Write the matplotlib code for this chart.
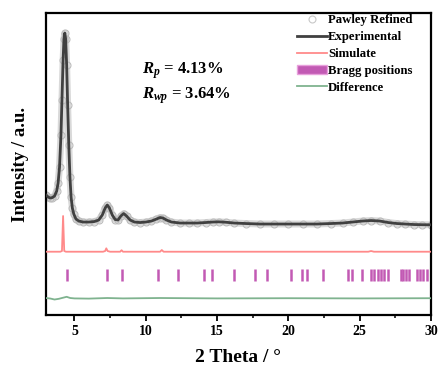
import matplotlib
matplotlib.use("Agg")
import matplotlib.pyplot as plt
from matplotlib.patches import Patch
from matplotlib.lines import Line2D
from matplotlib.ticker import MultipleLocator

plt.rcParams["font.family"] = ["Liberation Serif", "DejaVu Serif"]
plt.rcParams["font.weight"] = "bold"
plt.rcParams["mathtext.fontset"] = "custom"
plt.rcParams["mathtext.rm"] = "Liberation Serif:bold"
plt.rcParams["mathtext.it"] = "Liberation Serif:bold:italic"
plt.rcParams["mathtext.bf"] = "Liberation Serif:bold"

# experimental / refined pattern
exp_2theta = [3.0, 3.15, 3.3, 3.45, 3.6, 3.75, 3.85, 3.95, 4.05, 4.12, 4.2, 4.26, 4.32,
              4.38, 4.45, 4.52, 4.6, 4.68, 4.76, 4.85, 4.95, 5.1, 5.3, 5.6, 6.0, 6.4,
              6.7, 6.95, 7.15, 7.3, 7.45, 7.65, 7.85, 8.05, 8.25, 8.45, 8.65, 8.9, 9.2,
              9.6, 10.0, 10.4, 10.75, 11.0, 11.2, 11.45, 11.8, 12.4, 13.0, 13.6, 14.2,
              14.7, 15.1, 15.6, 16.2, 17.0, 18.0, 19.0, 20.0, 21.0, 22.0, 23.0, 23.8,
              24.5, 25.2, 25.8, 26.4, 27.0, 27.6, 28.2, 28.8, 29.4, 30.0]
exp_int = [120, 118, 117, 117.5, 119, 124, 132, 148, 180, 215, 255, 276, 282,
           276, 250, 210, 170, 138, 118, 107, 101, 96, 94, 93, 93, 93.5,
           95, 100, 107, 110, 107, 100, 95.5, 95, 99, 101.5, 99, 95, 93,
           92.5, 93, 94, 96, 97.5, 97, 95, 93, 92, 92, 92, 92.5,
           93, 93.2, 92.8, 92, 91.5, 91, 91, 91, 91, 91, 91.5, 92,
           93, 94, 94.5, 94, 92.5, 91.5, 91, 90.5, 90.3, 90.2]

# simulated pattern
sim_2theta = [3.0, 4.0, 4.12, 4.2, 4.28, 4.4, 7.0, 7.15, 7.23, 7.32, 7.5, 8.2, 8.3,
              8.4, 11.0, 11.12, 11.25, 25.6, 25.8, 26.0, 30.0]
sim_int = [63.3, 63.3, 64, 99, 64, 63.3, 63.3, 64, 66.7, 64, 63.3, 63.3, 64.8,
           63.3, 63.3, 65, 63.3, 63.3, 64, 63.3, 63.3]

# Bragg reflections
bragg_pos = [4.46, 7.30, 8.35, 10.88, 12.28, 14.08, 14.64, 16.19, 17.64, 18.53,
             20.19, 20.94, 21.34, 22.44, 24.15, 24.48, 25.13, 25.79, 26.02, 26.26,
             26.49, 26.73, 27.00, 27.87, 28.06, 28.25, 28.44, 29.00, 29.23, 29.47, 29.70]
bragg_lo, bragg_hi = 34, 46.5

# difference curve
diff_2theta = [3.0, 3.3, 3.6, 3.9, 4.2, 4.45, 4.7, 5.0, 6.0, 7.3, 8.4, 11.0, 15.0,
               20.0, 25.0, 30.0]
diff_int = [17, 16.5, 15.5, 16.2, 17.3, 18.2, 17, 16.6, 16.4, 17, 16.6, 17, 16.6,
            16.8, 16.6, 16.8]

fig = plt.figure(figsize=(4.4, 3.68), dpi=100)
ax = fig.add_axes([0.1045, 0.144, 0.875, 0.8205])

ax.plot(exp_2theta, exp_int, color="#d9d9d9", lw=5, solid_capstyle="round", zorder=1)
ax.plot(exp_2theta, exp_int, ls="none", marker="o", ms=5, mfc="none",
        mec="#bcbcbc", mew=0.8, zorder=2)
ax.plot(exp_2theta, exp_int, color="#404040", lw=2, zorder=3)
ax.plot(sim_2theta, sim_int, color="#ff8a8a", lw=1.3, zorder=3)
ax.vlines(bragg_pos, bragg_lo, bragg_hi, color="#c25ab4", lw=1.8, zorder=3)
ax.plot(diff_2theta, diff_int, color="#7fb38f", lw=1.3, zorder=3)

ax.set_xlim(3, 30)
ax.set_ylim(0, 302)
ax.xaxis.set_major_locator(MultipleLocator(5))
ax.xaxis.set_minor_locator(MultipleLocator(2.5))
ax.set_yticks([])
ax.tick_params(axis="x", which="major", direction="out", length=4, width=1.3,
               labelsize=10, pad=3)
ax.tick_params(axis="x", which="minor", direction="out", length=2.5, width=1.1)
for lab in ax.get_xticklabels():
    lab.set_fontweight("bold")
for s in ax.spines.values():
    s.set_linewidth(1.6)

ax.set_xlabel("2 Theta / °", fontsize=14, fontweight="bold", labelpad=8)
ax.set_ylabel("Intensity / a.u.", fontsize=13.5, fontweight="bold", labelpad=12)

ax.text(0.25, 0.81, r"$R_p$ = 4.13%", transform=ax.transAxes, fontsize=12,
        fontweight="bold", va="center")
ax.text(0.25, 0.727, r"$R_{wp}$ = 3.64%", transform=ax.transAxes, fontsize=12,
        fontweight="bold", va="center")

handles = [
    Line2D([], [], ls="none", marker="o", ms=5, mfc="none", mec="#c8c8c8", mew=0.8),
    Line2D([], [], color="#404040", lw=2),
    Line2D([], [], color="#ff8a8a", lw=1.3),
    Patch(facecolor="#c25ab4", edgecolor="#e8a0dc"),
    Line2D([], [], color="#7fb38f", lw=1.3),
]
labels = ["Pawley Refined", "Experimental", "Simulate", "Bragg positions", "Difference"]
ax.legend(handles, labels, loc="upper right", bbox_to_anchor=(0.975, 1.025),
          frameon=False, handlelength=2.3, handletextpad=0.1,
          labelspacing=0.38, borderaxespad=0.3, prop={"weight": "bold", "size": 9.2})

fig.savefig("out.png", dpi=100)
